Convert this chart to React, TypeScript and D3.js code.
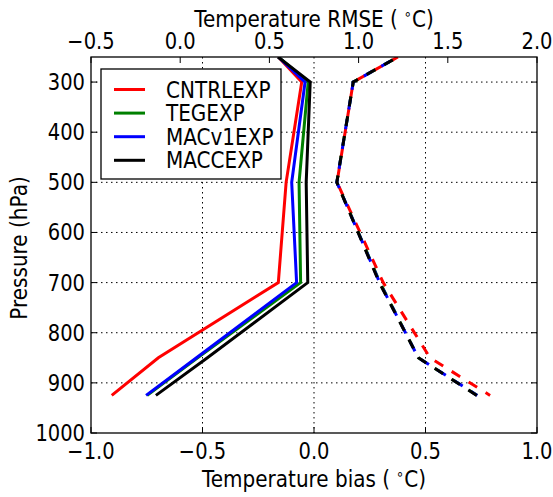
import React from "react";
import * as d3 from "d3";

const pressure = [925, 850, 700, 500, 300, 250];

const seriesNames = ["CNTRLEXP", "TEGEXP", "MACv1EXP", "MACCEXP"];
const seriesColors = ["#ff0000", "#008000", "#0000ff", "#000000"];

const biasCNTRL = [-0.907, -0.698, -0.16, -0.125, -0.055, -0.16];
const biasTEG = [-0.748, -0.522, -0.06, -0.067, -0.026, -0.16];
const biasMACv1 = [-0.753, -0.527, -0.078, -0.1, -0.04, -0.16];
const biasMACC = [-0.709, -0.478, -0.028, -0.035, -0.017, -0.161];

const rmseCNTRL = [1.737, 1.4, 1.138, 0.879, 0.97, 1.22];
const rmseTEG = [1.665, 1.335, 1.12, 0.878, 0.97, 1.22];
const rmseMACv1 = [1.665, 1.335, 1.118, 0.878, 0.97, 1.22];
const rmseMACC = [1.662, 1.335, 1.116, 0.878, 0.97, 1.22];

const biasTicks = [-1, -0.5, 0, 0.5, 1];
const rmseTicks = [-0.5, 0, 0.5, 1, 1.5, 2];
const pressureTicks = [300, 400, 500, 600, 700, 800, 900, 1000];

const W = 553, H = 497;
const L = 91, R = 537, T = 57, B = 433;
const FONT = "DejaVu Sans, sans-serif";
const SY = 1.15; // vertical glyph stretch seen in the reference
const DASH = 10;

function Txt(props: {
  x: number;
  y: number;
  anchor?: string;
  size: number;
  rotate?: number;
  children: React.ReactNode;
}) {
  const { x, y, anchor = "start", size, rotate = 0, children } = props;
  return (
    <text
      transform={`translate(${x},${y}) rotate(${rotate}) scale(1,${SY})`}
      textAnchor={anchor}
      fontSize={size}
      fill="#000"
    >
      {children}
    </text>
  );
}

export default function App() {
  const xBias = d3.scaleLinear().domain([-1, 1]).range([L, R]);
  const xRmse = d3.scaleLinear().domain([-0.5, 2]).range([L, R]);
  const y = d3.scaleLinear().domain([250, 1000]).range([T, B]);
  const fmt = d3.format(".1f");

  const biasSeries = [biasCNTRL, biasTEG, biasMACv1, biasMACC];
  const rmseSeries = [rmseCNTRL, rmseTEG, rmseMACv1, rmseMACC];

  const lineBias = d3
    .line<number>()
    .x((d) => xBias(d))
    .y((_, i) => y(pressure[i]));
  const lineRmse = d3
    .line<number>()
    .x((d) => xRmse(d))
    .y((_, i) => y(pressure[i]));

  // dash phase: path length to the 700 hPa point for each series
  const lenTo = (s: number[], k: number) => {
    let len = 0;
    for (let i = 1; i <= k; i++) {
      const dx = xRmse(s[i]) - xRmse(s[i - 1]);
      const dy = y(pressure[i]) - y(pressure[i - 1]);
      len += Math.hypot(dx, dy);
    }
    return len;
  };
  const refLen = lenTo(rmseMACC, 2);
  const phaseShift = [DASH, 0, 3, 0];
  const dashOffsets = rmseSeries.map((s, i) => refLen - lenTo(s, 2) + phaseShift[i]);

  const gridX = biasTicks.filter((t) => t > -1 && t < 1);
  const gridY = pressureTicks.filter((t) => t < 1000);
  const tickLen = 6;

  const legX = 101, legY = 69, legW = 180, legH = 110;

  const degLabel = (text: string) => (
    <>
      {text} (
      <tspan dx="6" dy="-7" fontSize="13">∘</tspan>
      <tspan dy="7">C)</tspan>
    </>
  );

  return (
    <svg
      width={W}
      height={H}
      style={{ position: "absolute", left: 0, top: 0, background: "#fff" }}
      fontFamily={FONT}
    >
      <rect x={0} y={0} width={W} height={H} fill="#fff" />
      <defs>
        <clipPath id="plotclip">
          <rect x={L} y={T} width={R - L} height={B - T} />
        </clipPath>
      </defs>
      {/* grid */}
      <g stroke="#000" strokeWidth={1} strokeDasharray="1.5,3.5">
        {gridX.map((t) => (
          <line key={"gx" + t} x1={xBias(t)} x2={xBias(t)} y1={T} y2={B} />
        ))}
        {gridY.map((t) => (
          <line key={"gy" + t} x1={L} x2={R} y1={y(t)} y2={y(t)} />
        ))}
      </g>
      {/* ticks */}
      <g stroke="#000" strokeWidth={1}>
        {biasTicks.map((t) => (
          <line key={"bt" + t} x1={xBias(t)} x2={xBias(t)} y1={B} y2={B - tickLen} />
        ))}
        {rmseTicks.map((t) => (
          <line key={"rt" + t} x1={xRmse(t)} x2={xRmse(t)} y1={T} y2={T + tickLen} />
        ))}
        {pressureTicks.map((t) => (
          <g key={"pt" + t}>
            <line x1={L} x2={L + tickLen} y1={y(t)} y2={y(t)} />
            <line x1={R} x2={R - tickLen} y1={y(t)} y2={y(t)} />
          </g>
        ))}
      </g>
      {/* data */}
      <g clipPath="url(#plotclip)" fill="none" strokeLinejoin="miter">
        {biasSeries.map((s, i) => (
          <path key={"b" + i} d={lineBias(s) || ""} stroke={seriesColors[i]} strokeWidth={3} />
        ))}
        {rmseSeries.map((s, i) => (
          <path
            key={"r" + i}
            d={lineRmse(s) || ""}
            stroke={seriesColors[i]}
            strokeWidth={3}
            strokeDasharray={`${DASH},${DASH}`}
            strokeDashoffset={dashOffsets[i]}
          />
        ))}
      </g>
      {/* frame */}
      <rect x={L} y={T} width={R - L} height={B - T} fill="none" stroke="#000" strokeWidth={1.3} />
      {/* tick labels */}
      {biasTicks.map((t) => (
        <Txt key={"bl" + t} x={xBias(t)} y={459} anchor="middle" size={19.5}>
          {fmt(t)}
        </Txt>
      ))}
      {rmseTicks.map((t) => (
        <Txt key={"rl" + t} x={xRmse(t)} y={49} anchor="middle" size={19.5}>
          {fmt(t)}
        </Txt>
      ))}
      {pressureTicks.map((t) => (
        <Txt key={"pl" + t} x={85} y={y(t) + 8} anchor="end" size={19.5}>
          {t}
        </Txt>
      ))}
      {/* axis labels */}
      <Txt x={(L + R) / 2} y={27} anchor="middle" size={20}>
        {degLabel("Temperature RMSE")}
      </Txt>
      <Txt x={(L + R) / 2} y={487} anchor="middle" size={20}>
        {degLabel("Temperature bias")}
      </Txt>
      <Txt x={27} y={(T + B) / 2 + 3} anchor="middle" size={20} rotate={-90}>
        Pressure (hPa)
      </Txt>
      {/* legend */}
      <g>
        <rect x={legX} y={legY} width={legW} height={legH} fill="#fff" stroke="#000" strokeWidth={1.3} />
        {seriesNames.map((n, i) => {
          const yy = legY + 20.5 + i * 23.6;
          return (
            <g key={"lg" + n}>
              <line x1={114} x2={145} y1={yy} y2={yy} stroke={seriesColors[i]} strokeWidth={3} />
              <Txt x={166} y={yy + 8} size={20}>
                {n}
              </Txt>
            </g>
          );
        })}
      </g>
    </svg>
  );
}
